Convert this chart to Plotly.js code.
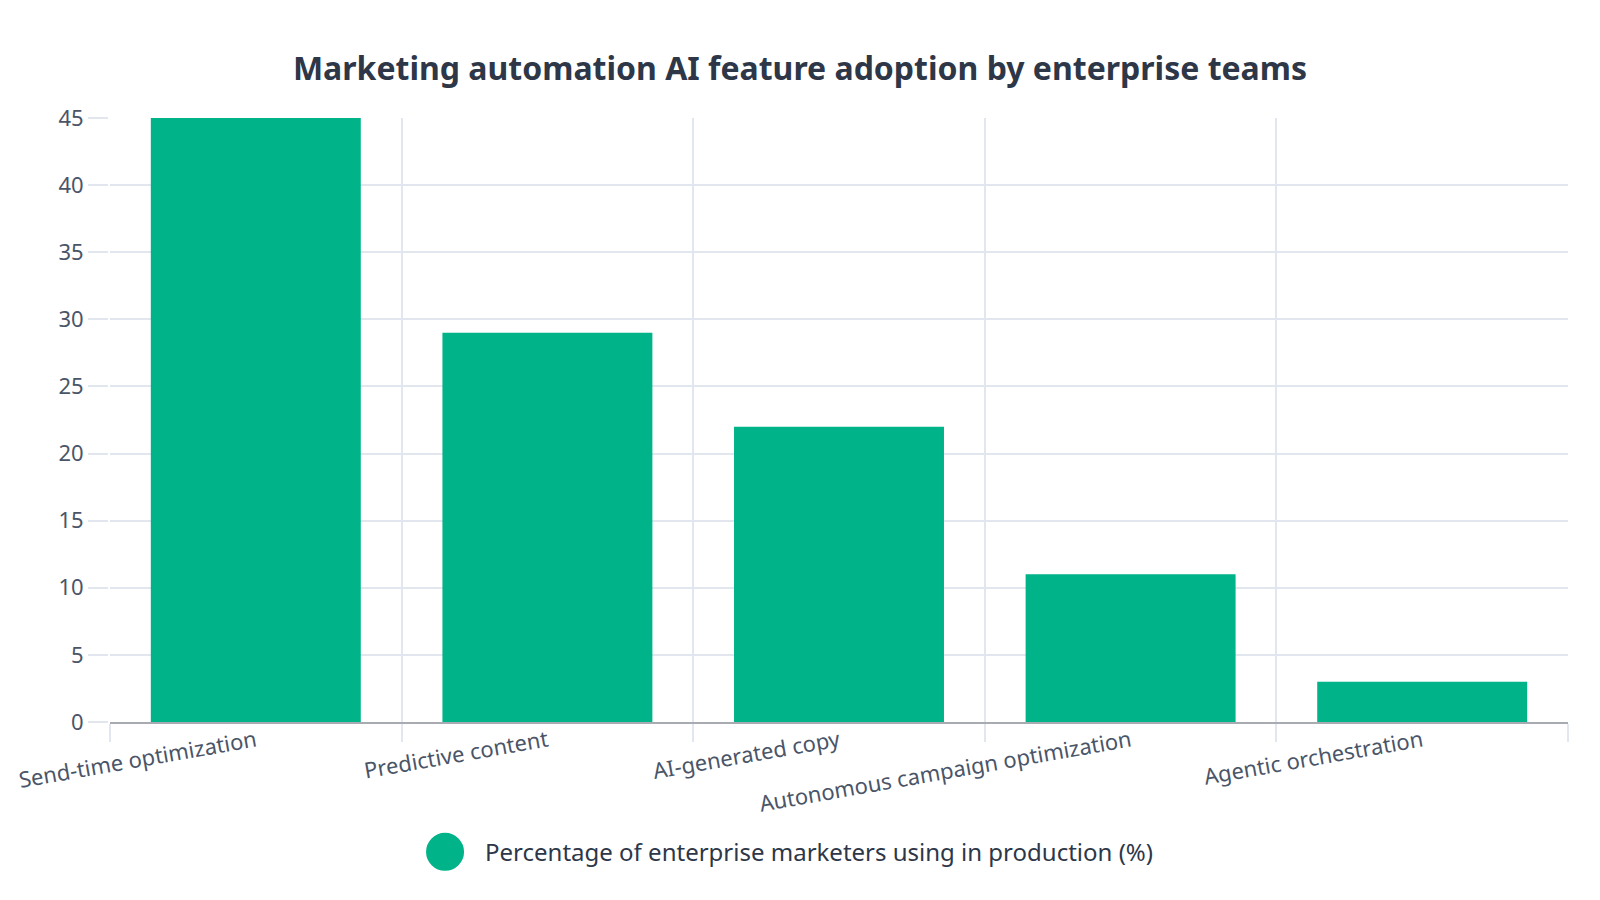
<!DOCTYPE html>
<html>
<head>
<meta charset="utf-8">
<script src="https://cdn.plot.ly/plotly-3.0.1.min.js"></script>
<style>
  html, body { margin: 0; padding: 0; background: #ffffff; }
  #frame { width: 1600px; height: 900px; position: relative; overflow: hidden; }
  #chart { position: absolute; left: 0; top: 0; width: 800px; height: 450px; transform: scale(2); transform-origin: 0 0; }
</style>
</head>
<body>
<div id="frame"><div id="chart"></div></div>
<script>
// categories and values
var features = [
    "Send-time optimization",
    "Predictive content",
    "AI-generated copy",
    "Autonomous campaign optimization",
    "Agentic orchestration"
];
var adoptionPct = [45, 29, 22, 11, 3];
var seriesName = "Percentage of enterprise marketers using in production (%)";
var yTicks = [0, 5, 10, 15, 20, 25, 30, 35, 40, 45];

var green = "#00b388";
var gridColor = "#e2e6ee";

var bars =
{
    x: features,
    y: adoptionPct,
    type: "bar",
    name: seriesName,
    marker: {color: green},
    showlegend: false,
    hoverinfo: "x+y"
};

// legend entry drawn as a round swatch, like the reference
var legendKey =
{
    x: [null],
    y: [null],
    type: "scatter",
    mode: "markers",
    name: seriesName,
    marker: {color: green, size: 16, line: {color: green, width: 3}},
    showlegend: true,
    hoverinfo: "skip"
};

var layout =
{
    width: 800,
    height: 450,
    margin: {l: 54.5, r: 16, t: 59, b: 89, autoexpand: false},
    paper_bgcolor: "#ffffff",
    plot_bgcolor: "#ffffff",
    font: {family: "Noto Sans, sans-serif", color: "#2d3748", size: 12},
    title:
    {
        text: "<b>Marketing automation AI feature adoption by enterprise teams</b>",
        x: 0.5,
        xanchor: "center",
        y: 0.924,
        yanchor: "middle",
        font: {size: 16, color: "#2d3748"}
    },
    bargap: 0.28,
    xaxis:
    {
        type: "category",
        tickson: "boundaries",
        ticks: "outside",
        ticklen: 9,
        tickcolor: gridColor,
        tickangle: -10,
        ticklabelstandoff: -2,
        showgrid: true,
        gridcolor: gridColor,
        showline: true,
        linecolor: "#a8abb1",
        linewidth: 1,
        tickfont: {size: 11, color: "#4a5568"},
        zeroline: false,
        automargin: false
    },
    yaxis:
    {
        range: [0, 45],
        tickvals: yTicks,
        ticks: "outside",
        ticklen: 10,
        tickcolor: gridColor,
        showgrid: true,
        gridcolor: gridColor,
        zeroline: false,
        showline: false,
        tickfont: {size: 11, color: "#4a5568"},
        automargin: false
    },
    legend:
    {
        orientation: "h",
        x: 0.463,
        xanchor: "center",
        y: -0.215,
        yanchor: "middle",
        font: {size: 12, color: "#2d3748"}
    },
    showlegend: true
};

Plotly.newPlot("chart", [bars, legendKey], layout, {displayModeBar: false, staticPlot: true});
</script>
</body>
</html>
